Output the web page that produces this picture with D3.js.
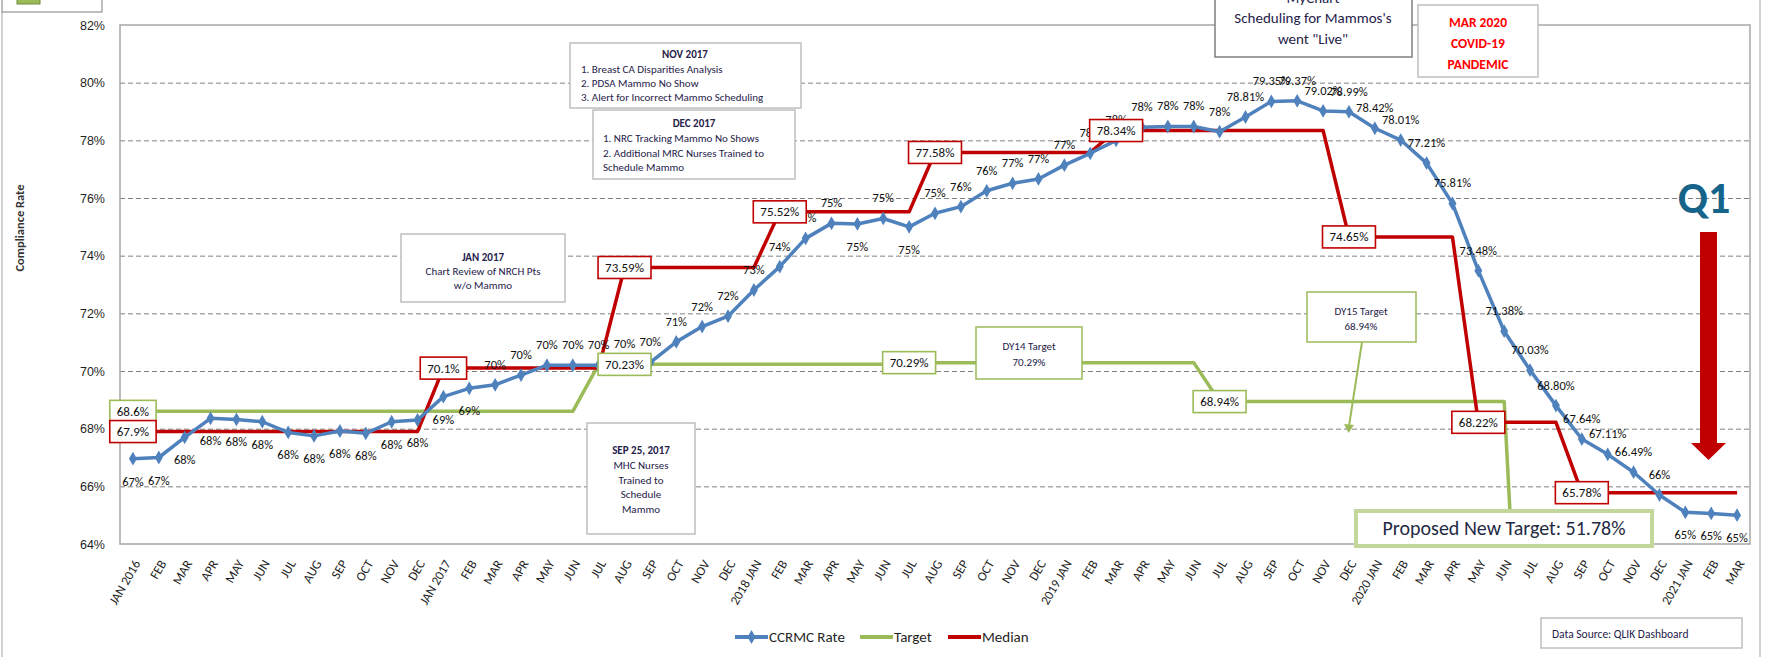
<!DOCTYPE html>
<meta charset="utf-8">
<style>
  body { margin: 0; background: #fff; }
  svg { display: block; font-family: Carlito, "Liberation Sans Narrow", "DejaVu Sans Condensed", sans-serif; }
  .grid line { stroke: #808080; stroke-dasharray: 5,3; }
  .grid .domain { display: none; }
  .grid text { font-size: 12.5px; fill: #1f1f1f; }
  .xlbl { font-size: 13px; fill: #1f1f1f; }
  .ptlbl { font-size: 12.5px; fill: #111; text-anchor: middle; }
  .boxlbl { font-size: 13px; fill: #111; text-anchor: middle; }
  .note { font-size: 11px; fill: #26224a; }
</style>
<svg width="1768" height="657"></svg>
<script src="https://d3js.org/d3.v7.min.js"></script>
<script>

var months = ["JAN 2016","FEB","MAR","APR","MAY","JUN","JUL","AUG","SEP","OCT","NOV","DEC",
  "JAN 2017","FEB","MAR","APR","MAY","JUN","JUL","AUG","SEP","OCT","NOV","DEC",
  "2018 JAN","FEB","MAR","APR","MAY","JUN","JUL","AUG","SEP","OCT","NOV","DEC",
  "2019 JAN","FEB","MAR","APR","MAY","JUN","JUL","AUG","SEP","OCT","NOV","DEC",
  "2020 JAN","FEB","MAR","APR","MAY","JUN","JUL","AUG","SEP","OCT","NOV","DEC",
  "2021 JAN","FEB","MAR"];

// CCRMC compliance rate, %
var rate = [66.96, 67.0, 67.7, 68.36, 68.32, 68.24, 67.87, 67.75, 67.92, 67.84, 68.24, 68.3,
  69.11, 69.4, 69.52, 69.86, 70.2, 70.2, 70.2, 70.25, 70.3, 71.01, 71.54, 71.9,
  72.81, 73.62, 74.6, 75.12, 75.1, 75.29, 75.0, 75.47, 75.7, 76.25, 76.51, 76.66,
  77.14, 77.55, 78.0, 78.45, 78.48, 78.48, 78.3, 78.81, 79.35, 79.37, 79.02, 78.99,
  78.42, 78.01, 77.21, 75.81, 73.48, 71.38, 70.03, 68.80, 67.64, 67.11, 66.49, 65.7,
  65.1, 65.06, 65.0];

var target = [68.6, 68.6, 68.6, 68.6, 68.6, 68.6, 68.6, 68.6, 68.6, 68.6, 68.6, 68.6,
  68.6, 68.6, 68.6, 68.6, 68.6, 68.6, 70.23, 70.23, 70.23, 70.23, 70.23, 70.23,
  70.23, 70.23, 70.23, 70.23, 70.23, 70.23, 70.29, 70.29, 70.29, 70.29, 70.29, 70.29,
  70.29, 70.29, 70.29, 70.29, 70.29, 70.29, 68.94, 68.94, 68.94, 68.94, 68.94, 68.94,
  68.94, 68.94, 68.94, 68.94, 68.94, 68.94, 51.78, 51.78, 51.78, 51.78, 51.78, 51.78,
  51.78, 51.78, 51.78];

var median = [67.9, 67.9, 67.9, 67.9, 67.9, 67.9, 67.9, 67.9, 67.9, 67.9, 67.9, 67.9,
  70.1, 70.1, 70.1, 70.1, 70.1, 70.1, 70.1, 73.59, 73.59, 73.59, 73.59, 73.59,
  73.59, 75.52, 75.52, 75.52, 75.52, 75.52, 75.52, 77.58, 77.58, 77.58, 77.58, 77.58,
  77.58, 77.58, 78.34, 78.34, 78.34, 78.34, 78.34, 78.34, 78.34, 78.34, 78.34, 74.65,
  74.65, 74.65, 74.65, 74.65, 68.22, 68.22, 68.22, 68.22, 65.78, 65.78, 65.78, 65.78,
  65.78, 65.78, 65.78];

var yTicks = [64, 66, 68, 70, 72, 74, 76, 78, 80, 82];

// which points carry a boxed value label
var medianLabelAt = [0, 12, 19, 25, 31, 38, 47, 52, 56];
var targetLabelAt = [0, 19, 30, 42];
// rate labels shown under the point / with two decimals
var rateBelow = [0,1,2,3,4,5,6,7,8,9,10,11,12,13,28,30,60,61,62];
var rateExact = [43,44,45,46,47,48,49,50,51,52,53,54,55,56,57,58];

var BLUE = "#4f81bd", GREEN = "#9bbb59", RED = "#c00000";

var svg = d3.select("svg");

var x = d3.scalePoint().domain(d3.range(months.length)).range([120, 1750]).padding(0.5);
var y = d3.scaleLinear().domain([64, 82]).range([544, 25]);

// outer chart frame and clipped legend box at the top
svg.append("line").attr("x1", 2).attr("x2", 2).attr("y1", 12).attr("y2", 657).attr("stroke", "#a6a6a6");
svg.append("line").attr("x1", 1760).attr("x2", 1760).attr("y1", 0).attr("y2", 657).attr("stroke", "#a6a6a6");
svg.append("rect").attr("x", 2).attr("y", -20).attr("width", 100).attr("height", 32)
  .attr("fill", "#fff").attr("stroke", "#7f7f7f");
svg.append("rect").attr("x", 17).attr("y", -8).attr("width", 23).attr("height", 12)
  .attr("fill", GREEN).attr("stroke", "#71893f");

// grid + y labels
svg.append("g").attr("class", "grid")
  .attr("transform", "translate(120,0)")
  .call(d3.axisLeft(y).tickValues(yTicks).tickSize(-1630).tickPadding(15)
    .tickFormat(function(d) { return d + "%"; }))
  .selectAll("line").filter(function(d) { return d == 64 || d == 82; }).remove();

svg.append("rect").attr("x", 120).attr("y", 25).attr("width", 1630).attr("height", 519)
  .attr("fill", "none").attr("stroke", "#a6a6a6").attr("stroke-width", 1.5);

svg.append("text").attr("transform", "translate(24,228) rotate(-90)")
  .attr("text-anchor", "middle").attr("font-size", 12.5).attr("font-weight", "bold")
  .attr("fill", "#333").text("Compliance Rate");

// x labels
svg.append("g").selectAll("text").data(months).enter().append("text")
  .attr("class", "xlbl")
  .attr("transform", function(d, i) { return "translate(" + (x(i) + 4) + ",561) rotate(-60)"; })
  .attr("text-anchor", "end").attr("dy", "0.35em")
  .text(function(d) { return d; });

svg.append("clipPath").attr("id", "plot").append("rect")
  .attr("x", 120).attr("y", 25).attr("width", 1630).attr("height", 519);

var line = d3.line().x(function(d, i) { return x(i); }).y(function(d) { return y(d); });

var plot = svg.append("g").attr("clip-path", "url(#plot)");
plot.append("path").datum(target).attr("d", line).attr("fill", "none")
  .attr("stroke", GREEN).attr("stroke-width", 3.5).attr("stroke-linejoin", "round");
plot.append("path").datum(median).attr("d", line).attr("fill", "none")
  .attr("stroke", RED).attr("stroke-width", 3.5).attr("stroke-linejoin", "round");
plot.append("path").datum(rate).attr("d", line).attr("fill", "none")
  .attr("stroke", BLUE).attr("stroke-width", 3.5).attr("stroke-linejoin", "round");
plot.append("g").selectAll("path").data(rate).enter().append("path")
  .attr("d", d3.symbol().type(d3.symbolDiamond).size(55))
  .attr("transform", function(d, i) { return "translate(" + x(i) + "," + y(d) + ")"; })
  .attr("fill", BLUE);

// rate labels
svg.append("g").selectAll("text").data(rate).enter().append("text")
  .attr("class", "ptlbl")
  .attr("x", function(d, i) { return x(i); })
  .attr("y", function(d, i) { return y(d) + (rateBelow.indexOf(i) >= 0 ? 27 : -16); })
  .text(function(d, i) {
    return rateExact.indexOf(i) >= 0 ? d.toFixed(2) + "%" : Math.round(d) + "%";
  });

function boxLabels(values, idx, color) {
  var g = svg.append("g").selectAll("g").data(idx).enter().append("g")
    .attr("transform", function(i) { return "translate(" + x(i) + "," + y(values[i]) + ")"; });
  g.append("rect").attr("fill", "#fff").attr("stroke", color).attr("stroke-width", 1.6);
  var t = g.append("text").attr("class", "boxlbl").attr("dy", "0.35em")
    .text(function(i) { return values[i] + "%"; });
  t.each(function(i) {
    var w = this.getComputedTextLength() + 14;
    d3.select(this.parentNode).select("rect")
      .attr("x", -w / 2).attr("y", -11).attr("width", w).attr("height", 22);
  });
}
boxLabels(target, targetLabelAt, GREEN);
boxLabels(median, medianLabelAt, RED);

// annotation boxes
var notes = [
  { x: 401, y: 234, w: 164, h: 68, stroke: "#bfbfbf", lines: [
    ["JAN 2017", 483, 261, 1], ["Chart Review of NRCH Pts", 483, 275], ["w/o Mammo", 483, 289]] },
  { x: 570, y: 43, w: 231, h: 65, stroke: "#bfbfbf", lines: [
    ["NOV 2017", 685, 58, 1], ["1. Breast CA Disparities Analysis", 581, 73, 0, "start"],
    ["2. PDSA Mammo No Show", 581, 87, 0, "start"], ["3. Alert for Incorrect Mammo Scheduling", 581, 101, 0, "start"]] },
  { x: 593, y: 110, w: 202, h: 69, stroke: "#bfbfbf", lines: [
    ["DEC 2017", 694, 127, 1], ["1. NRC Tracking Mammo No Shows", 603, 142, 0, "start"],
    ["2. Additional MRC Nurses Trained to", 603, 157, 0, "start"], ["Schedule Mammo", 603, 171, 0, "start"]] },
  { x: 587, y: 423, w: 108, h: 111, stroke: "#bfbfbf", lines: [
    ["SEP 25, 2017", 641, 454, 1], ["MHC Nurses", 641, 469], ["Trained to", 641, 484],
    ["Schedule", 641, 498], ["Mammo", 641, 513]] },
  { x: 976, y: 327, w: 106, h: 52, stroke: GREEN, lines: [
    ["DY14 Target", 1029, 350], ["70.29%", 1029, 366]] },
  { x: 1307, y: 292, w: 109, h: 50, stroke: GREEN, lines: [
    ["DY15 Target", 1361, 315], ["68.94%", 1361, 330]] },
  { x: 1215, y: -20, w: 197, h: 77, stroke: "#7f7f7f", size: 15, lines: [
    ["MyChart", 1313, 3], ["Scheduling for Mammos's", 1313, 23], ["went \"Live\"", 1313, 44]] },
  { x: 1418, y: 5, w: 120, h: 72, stroke: "#bfbfbf", size: 13.5, fill: "#ff0000", lines: [
    ["MAR 2020", 1478, 27, 1], ["COVID-19", 1478, 48, 1], ["PANDEMIC", 1478, 69, 1]] },
  { x: 1541, y: 618, w: 201, h: 30, stroke: "#bfbfbf", size: 11.5, lines: [
    ["Data Source: QLIK Dashboard", 1552, 638, 0, "start"]] }
];

// DY15 pointer
svg.append("line").attr("x1", 1362).attr("y1", 342).attr("x2", 1349).attr("y2", 426)
  .attr("stroke", GREEN).attr("stroke-width", 2);
svg.append("path").attr("d", "M1344,424L1354,425L1348.5,433Z").attr("fill", GREEN);

notes.forEach(function(n) {
  svg.append("rect").attr("x", n.x).attr("y", n.y).attr("width", n.w).attr("height", n.h)
    .attr("fill", "#fff").attr("stroke", n.stroke).attr("stroke-width", 1.5);
  n.lines.forEach(function(l) {
    svg.append("text").attr("class", "note")
      .attr("x", l[1]).attr("y", l[2])
      .attr("text-anchor", l[4] || "middle")
      .attr("font-weight", l[3] ? "bold" : null)
      .style("font-size", (n.size || 11) + "px")
      .style("fill", n.fill || "#26224a")
      .text(l[0]);
  });
});

// proposed target
svg.append("rect").attr("x", 1356).attr("y", 511).attr("width", 296).attr("height", 35)
  .attr("fill", "#fff").attr("stroke", "#c3d69b").attr("stroke-width", 4);
svg.append("text").attr("x", 1504).attr("y", 535).attr("text-anchor", "middle")
  .attr("font-size", 20).attr("fill", "#1f2a44").text("Proposed New Target: 51.78%");

// Q1 arrow
svg.append("text").attr("x", 1704).attr("y", 213).attr("text-anchor", "middle")
  .attr("font-size", 44).attr("font-weight", "bold").attr("fill", "#17648a").text("Q1");
svg.append("rect").attr("x", 1700).attr("y", 232).attr("width", 17).attr("height", 212).attr("fill", RED);
svg.append("path").attr("d", "M1691,443L1726,443L1708.5,460Z").attr("fill", RED);

// legend
var legend = [["CCRMC Rate", BLUE, 735], ["Target", GREEN, 860], ["Median", RED, 948]];
legend.forEach(function(l) {
  svg.append("line").attr("x1", l[2]).attr("x2", l[2] + 33).attr("y1", 637).attr("y2", 637)
    .attr("stroke", l[1]).attr("stroke-width", 4);
  if (l[0] == "CCRMC Rate")
    svg.append("path").attr("d", d3.symbol().type(d3.symbolDiamond).size(55))
      .attr("transform", "translate(" + (l[2] + 16.5) + ",637)").attr("fill", l[1]);
  svg.append("text").attr("x", l[2] + 34).attr("y", 642).attr("font-size", 15)
    .attr("fill", "#1f1f1f").text(l[0]);
});

</script>
